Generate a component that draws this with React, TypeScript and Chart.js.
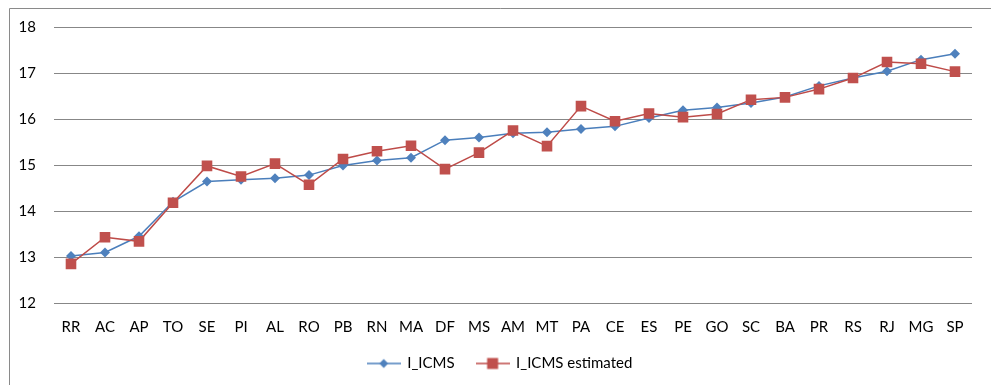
import React, { useEffect, useRef } from 'react';
import { Chart, registerables } from 'chart.js';

Chart.register(...registerables);

// Brazilian states, ordered by I_ICMS
const states = [
  'RR', 'AC', 'AP', 'TO', 'SE', 'PI', 'AL', 'RO', 'PB', 'RN', 'MA', 'DF', 'MS', 'AM',
  'MT', 'PA', 'CE', 'ES', 'PE', 'GO', 'SC', 'BA', 'PR', 'RS', 'RJ', 'MG', 'SP',
];

const icms = [
  13.02, 13.1, 13.45, 14.2, 14.64, 14.68, 14.71, 14.78, 14.99, 15.1, 15.16, 15.54, 15.6, 15.69,
  15.71, 15.78, 15.84, 16.02, 16.19, 16.25, 16.35, 16.48, 16.72, 16.89, 17.04, 17.29, 17.42,
];

const icmsEstimated = [
  12.85, 13.43, 13.34, 14.18, 14.98, 14.75, 15.03, 14.57, 15.13, 15.3, 15.42, 14.91, 15.27, 15.75,
  15.41, 16.28, 15.95, 16.12, 16.04, 16.11, 16.42, 16.47, 16.65, 16.89, 17.24, 17.2, 17.03,
];

const seriesNames = ['I_ICMS', 'I_ICMS estimated'];

const yMin = 12;
const yMax = 18;
const yStep = 1;

const BLUE_LINE = '#4A7EBB';
const BLUE_MARK = '#4F81BD';
const RED_LINE = '#BE4B48';
const RED_MARK = '#C0504D';
const GRID = '#878787';
const FONT = 'Lato, "Open Sans", sans-serif';
const FONT_SIZE = 15;

// Small line + marker sample for the legend
function legendSample(line: string, mark: string, shape: 'diamond' | 'square'): HTMLCanvasElement {
  const c = document.createElement('canvas');
  c.width = 34;
  c.height = 14;
  const ctx = c.getContext('2d') as CanvasRenderingContext2D;
  ctx.strokeStyle = line;
  ctx.lineWidth = 1.5;
  ctx.beginPath();
  ctx.moveTo(0, 7);
  ctx.lineTo(34, 7);
  ctx.stroke();
  ctx.fillStyle = mark;
  if (shape === 'diamond') {
    ctx.beginPath();
    ctx.moveTo(17, 2.5);
    ctx.lineTo(21.5, 7);
    ctx.lineTo(17, 11.5);
    ctx.lineTo(12.5, 7);
    ctx.closePath();
    ctx.fill();
  } else {
    ctx.fillRect(11.5, 1.5, 11, 11);
  }
  return c;
}

// Outer frame (left and top edges of the chart box)
const framePlugin = {
  id: 'frame',
  beforeDraw(chart: Chart) {
    const ctx = chart.ctx;
    ctx.save();
    ctx.strokeStyle = '#8a8a8a';
    ctx.lineWidth = 1;
    ctx.beginPath();
    ctx.moveTo(9.5, chart.height);
    ctx.lineTo(9.5, 8.5);
    ctx.lineTo(chart.width, 8.5);
    ctx.stroke();
    ctx.restore();
  },
};

// Centre the legend on the whole box rather than on the padded area
const legendShiftPlugin = {
  id: 'legendShift',
  afterLayout(chart: any) {
    const legend = chart.legend;
    if (!legend) return;
    legend.left += 14;
    legend.right += 14;
  },
};

export default function App() {
  const canvasRef = useRef<HTMLCanvasElement | null>(null);

  useEffect(() => {
    document.body.style.overflow = 'hidden';
    const canvas = canvasRef.current;
    if (!canvas) return;
    const samples = [
      legendSample(BLUE_LINE, BLUE_MARK, 'diamond'),
      legendSample(RED_LINE, RED_MARK, 'square'),
    ];
    const chart = new Chart(canvas, {
      type: 'line',
      data: {
        labels: states,
        datasets: [
          {
            label: seriesNames[0],
            data: icms,
            borderColor: BLUE_LINE,
            backgroundColor: BLUE_MARK,
            borderWidth: 1.5,
            pointStyle: 'rectRot',
            pointRadius: 5,
            pointBorderWidth: 0,
            pointBackgroundColor: BLUE_MARK,
            tension: 0,
            order: 1,
          },
          {
            label: seriesNames[1],
            data: icmsEstimated,
            borderColor: RED_LINE,
            backgroundColor: RED_MARK,
            borderWidth: 1.5,
            pointStyle: 'rect',
            pointRadius: 7.5,
            pointBorderWidth: 0,
            pointBackgroundColor: RED_MARK,
            tension: 0,
            order: 0,
          },
        ],
      },
      options: {
        animation: false,
        responsive: false,
        maintainAspectRatio: false,
        layout: { padding: { top: 27, left: 0, right: 19, bottom: 4 } },
        scales: {
          x: {
            offset: true,
            grid: { display: false, drawTicks: false },
            border: { display: false },
            ticks: {
              color: '#000',
              padding: 15,
              maxRotation: 0,
              autoSkip: false,
              font: { family: FONT, size: FONT_SIZE },
            },
            afterFit(scale: any) {
              scale.height = 31;
            },
          },
          y: {
            min: yMin,
            max: yMax,
            grid: { color: GRID, lineWidth: 1, drawTicks: false },
            border: { display: false },
            ticks: {
              stepSize: yStep,
              color: '#000',
              padding: 18,
              font: { family: FONT, size: FONT_SIZE },
            },
            afterFit(scale: any) {
              scale.width = 54;
            },
          },
        },
        plugins: {
          legend: {
            position: 'bottom',
            labels: {
              usePointStyle: true,
              pointStyleWidth: 32,
              padding: 22,
              color: '#000',
              font: { family: FONT, size: FONT_SIZE },
              generateLabels: () =>
                seriesNames.map((name, i) => ({
                  text: name,
                  pointStyle: samples[i],
                  fillStyle: 'transparent',
                  strokeStyle: 'transparent',
                  lineWidth: 0,
                  hidden: false,
                  datasetIndex: i,
                  fontColor: '#000',
                })),
            },
          },
          tooltip: { enabled: false },
        },
      },
      plugins: [framePlugin, legendShiftPlugin],
    });
    return () => chart.destroy();
  }, []);

  return (
    <div style={{ position: 'fixed', left: 0, top: 0, width: 991, height: 385, background: '#fff' }}>
      <canvas ref={canvasRef} width={991} height={385} style={{ display: 'block', width: 991, height: 385 }} />
    </div>
  );
}
